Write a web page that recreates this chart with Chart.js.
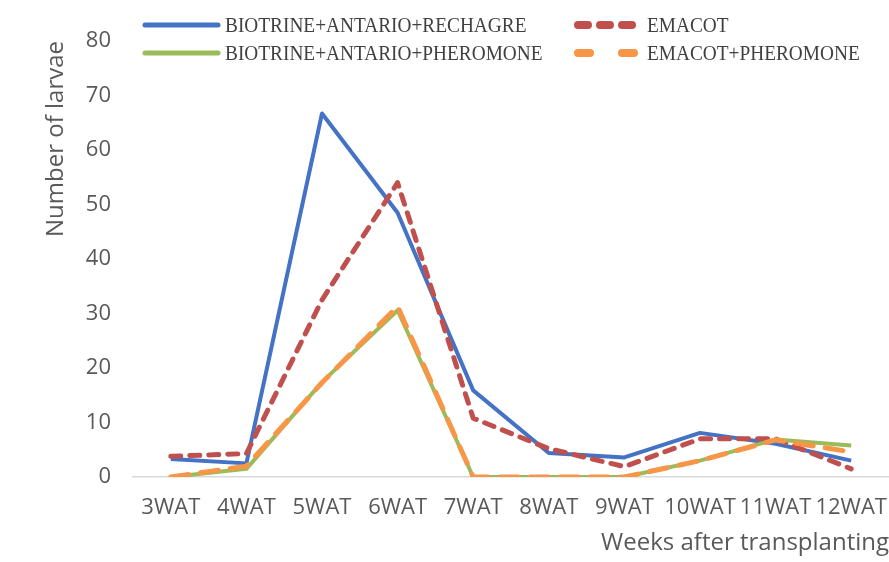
<!DOCTYPE html>
<html>
<head>
<meta charset="utf-8">
<script src="https://cdn.jsdelivr.net/npm/chart.js@4.4.0/dist/chart.umd.min.js"></script>
<style>
    html, body { margin: 0; padding: 0; background: #fff; }
    #wrap { width: 889px; height: 562px; position: relative; }
</style>
</head>
<body>
<div id="wrap"><canvas id="larvaeChart" width="889" height="562"></canvas></div>
<script>
(function () {
    'use strict';

    // Data
    var weeks = ['3WAT', '4WAT', '5WAT', '6WAT', '7WAT', '8WAT', '9WAT', '10WAT', '11WAT', '12WAT'];
    var seriesNames = [
        'BIOTRINE+ANTARIO+RECHAGRE',
        'EMACOT',
        'BIOTRINE+ANTARIO+PHEROMONE',
        'EMACOT+PHEROMONE'
    ];
    var biotrineRechagre = [3.3, 2.5, 66.7, 48.5, 15.9, 4.4, 3.6, 8.1, 6.1, 3.0];
    var emacot = [3.8, 4.3, 32.5, 54.0, 10.8, 5.2, 1.9, 7.0, 7.0, 1.5];
    var biotrinePheromone = [0, 1.5, 17.4, 30.6, 0, 0, 0, 3.0, 6.9, 5.8];
    var emacotPheromone = [0, 2.0, 17.3, 31.3, 0, 0, 0, 3.0, 6.8, 4.6];
    var yTicks = [0, 10, 20, 30, 40, 50, 60, 70, 80];

    var COLORS = ['#4472C4', '#C0504D', '#9BBB59', '#F79646'];
    var DASHES = [[], [10, 9], [], [18, 12]];
    var WIDTHS = [4, 5, 4, 5];
    var TEXT = '#595959';

    // legend drawn two per row like the original
    var legendPlugin = {
        id: 'gridLegend',
        afterDraw: function (chart, args, opts) {
            var ctx = chart.ctx;
            chart.data.datasets.forEach(function (ds, i) {
                var col = i % 2, row = Math.floor(i / 2);
                var x = opts.cols[col], y = opts.rows[row];
                ctx.save();
                ctx.strokeStyle = ds.borderColor;
                ctx.lineWidth = ds.legendWidth;
                ctx.lineCap = 'round';
                ctx.setLineDash(ds.legendDash);
                ctx.beginPath();
                ctx.moveTo(x, y);
                ctx.lineTo(x + opts.sample[col], y);
                ctx.stroke();
                ctx.restore();

                ctx.save();
                ctx.fillStyle = '#404040';
                ctx.font = opts.font;
                ctx.textBaseline = 'middle';
                ctx.translate(x + opts.sample[col] + 7, y);
                ctx.scale(0.92, 1);
                ctx.fillText(ds.label, 0, 1);
                ctx.restore();
            });
        }
    };

    var sets = [biotrineRechagre, emacot, biotrinePheromone, emacotPheromone];
    var legendDash = [[], [10, 12], [], [12, 32]];

    var datasets = sets.map(function (vals, i) {
        return {
            label: seriesNames[i],
            data: vals,
            borderColor: COLORS[i],
            backgroundColor: COLORS[i],
            borderWidth: WIDTHS[i],
            borderDash: DASHES[i],
            borderCapStyle: DASHES[i].length ? 'round' : 'butt',
            borderJoinStyle: 'round',
            pointRadius: 0,
            tension: 0,
            fill: false,
            order: 4 - i,
            legendDash: legendDash[i],
            legendWidth: i % 2 ? 8 : 5
        };
    });

    new Chart(document.getElementById('larvaeChart').getContext('2d'), {
        type: 'line',
        data: { labels: weeks, datasets: datasets },
        plugins: [legendPlugin],
        options: {
            responsive: false,
            animation: false,
            layout: { padding: { top: 41, right: 0, bottom: 4, left: 0 } },
            plugins: {
                legend: { display: false },
                tooltip: { enabled: false },
                gridLegend: {
                    cols: [145, 578],
                    rows: [25, 53],
                    sample: [73, 62],
                    font: '21px "Liberation Serif"'
                }
            },
            scales: {
                x: {
                    offset: true,
                    grid: { display: false },
                    border: { color: '#D9D9D9', width: 1.5 },
                    afterFit: function (axis) {
                        axis.height = 81;
                        // let the outer labels hang into the offset space
                        axis.paddingLeft = 0;
                        axis.paddingRight = 0;
                    },
                    ticks: {
                        color: TEXT,
                        font: { family: 'Open Sans', size: 22 },
                        maxRotation: 0,
                        autoSkip: false,
                        padding: 10
                    },
                    title: {
                        display: true,
                        text: 'Weeks after transplanting',
                        align: 'end',
                        color: TEXT,
                        font: { family: 'Open Sans', size: 24 },
                        padding: { top: 4, bottom: 0 }
                    }
                },
                y: {
                    min: 0,
                    max: 80,
                    afterBuildTicks: function (axis) {
                        axis.ticks = yTicks.map(function (v) { return { value: v }; });
                    },
                    afterFit: function (axis) { axis.width = 133; },
                    grid: { display: false, drawTicks: false },
                    border: { display: false },
                    ticks: {
                        color: TEXT,
                        font: { family: 'Open Sans', size: 22 },
                        padding: 22
                    },
                    title: {
                        display: true,
                        text: 'Number of larvae',
                        align: 'end',
                        color: TEXT,
                        font: { family: 'Open Sans', size: 24 },
                        padding: { top: 42, bottom: 0 }
                    }
                }
            }
        }
    });
})();
</script>
</body>
</html>
